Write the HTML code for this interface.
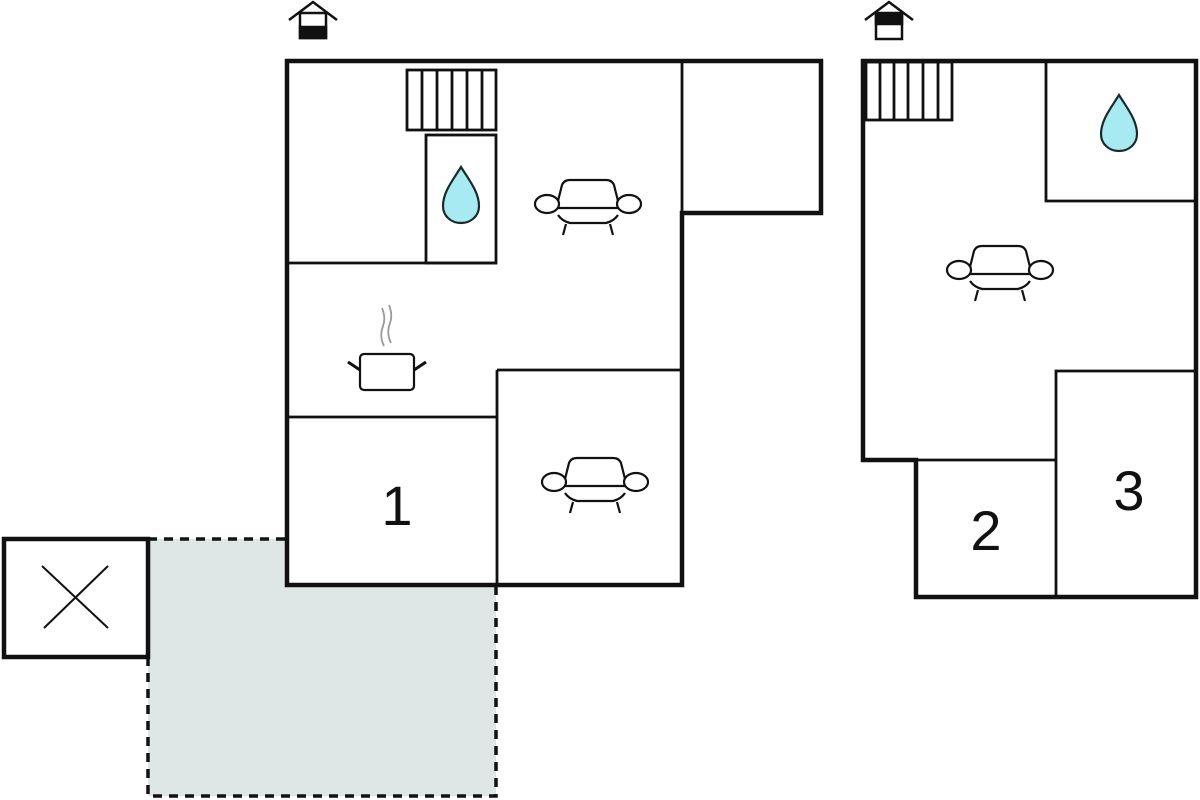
<!DOCTYPE html>
<html><head><style>html,body{margin:0;padding:0;background:#fff}svg{display:block}</style></head><body>
<svg width="1200" height="800" viewBox="0 0 1200 800" xmlns="http://www.w3.org/2000/svg">
<defs>
<g id="sofa" fill="none" stroke="#111" stroke-width="2.2">
<path d="M-30,-6 L-26,-22 Q-24,-27 -18,-27 L18,-27 Q24,-27 26,-22 L30,-6"/>
<path d="M-30,8 Q-26,14 -18,16 L18,16 Q26,14 30,8"/>
<line x1="-32" y1="1" x2="32" y2="1"/>
<ellipse cx="-41" cy="-3" rx="12" ry="9" fill="#fff"/>
<ellipse cx="41" cy="-3" rx="12" ry="9" fill="#fff"/>
<line x1="-22" y1="17" x2="-25" y2="28"/><line x1="22" y1="17" x2="25" y2="28"/>
</g>
<path id="drop" d="M0,-33 C8,-20 18,-8 18,6 C18,16 10,23 0,23 C-10,23 -18,16 -18,6 C-18,-8 -8,-20 0,-33 Z" fill="#a8eaf2" stroke="#1a2a2a" stroke-width="2.2"/>
</defs>
<!-- dashed terrace -->
<rect x="148" y="539" width="348" height="257" fill="#dfe7e6"/>
<path d="M148,539 L287,539 M148,657 L148,796 L496,796 L496,585" fill="none" stroke="#111" stroke-width="3.5" stroke-dasharray="9,7"/>
<!-- X box -->
<rect x="4" y="539" width="144" height="118" fill="#fff" stroke="#111" stroke-width="4.5"/>
<line x1="42" y1="566" x2="108" y2="628" stroke="#111" stroke-width="2"/>
<line x1="108" y1="566" x2="44" y2="628" stroke="#111" stroke-width="2"/>
<!-- left building -->
<path d="M287,61 L821,61 L821,213 L682,213 L682,585 L287,585 Z" fill="#fff" stroke="#111" stroke-width="4.5"/>
<g stroke="#111" stroke-width="2.8" fill="none">
<line x1="682" y1="61" x2="682" y2="213"/>
<line x1="287" y1="263" x2="497" y2="263"/>
<rect x="426" y="135" width="70" height="128"/>
<rect x="407" y="70" width="89" height="60"/>
<line x1="422" y1="70" x2="422" y2="130"/><line x1="437" y1="70" x2="437" y2="130"/><line x1="452" y1="70" x2="452" y2="130"/><line x1="467" y1="70" x2="467" y2="130"/><line x1="482" y1="70" x2="482" y2="130"/>
<line x1="287" y1="417" x2="497" y2="417"/>
<line x1="497" y1="370" x2="497" y2="585"/>
<line x1="497" y1="370" x2="682" y2="370"/>
</g>
<use href="#drop" x="461" y="200"/>
<use href="#sofa" x="588" y="207"/>
<use href="#sofa" x="595" y="485"/>
<!-- pot -->
<g stroke="#111" stroke-width="2.2" fill="none">
<rect x="360" y="354" width="54" height="36" rx="4"/>
<line x1="348" y1="362" x2="360" y2="370" stroke-width="3"/>
<line x1="426" y1="362" x2="414" y2="370" stroke-width="3"/>
<path d="M384,346 Q379,336 383,326 Q386,318 382,308 M391,343 Q386,333 390,323 Q393,315 389,305" stroke="#999" stroke-width="1.8"/>
</g>
<text x="397" y="525" font-family="Liberation Sans, sans-serif" font-size="56" text-anchor="middle" fill="#111">1</text>
<!-- right building -->
<path d="M863,61 L1196,61 L1196,597 L916,597 L916,460 L863,460 Z" fill="#fff" stroke="#111" stroke-width="4.5"/>
<g stroke="#111" stroke-width="2.8" fill="none">
<path d="M1046,61 L1046,201 L1196,201"/>
<rect x="866" y="62" width="86" height="58"/>
<line x1="880" y1="62" x2="880" y2="120"/><line x1="894" y1="62" x2="894" y2="120"/><line x1="908" y1="62" x2="908" y2="120"/><line x1="923" y1="62" x2="923" y2="120"/><line x1="938" y1="62" x2="938" y2="120"/>
<path d="M1196,371 L1056,371 L1056,597"/>
<line x1="916" y1="460" x2="1056" y2="460"/>
</g>
<use href="#drop" x="1119" y="128"/>
<use href="#sofa" x="1000" y="273"/>
<text x="986" y="550" font-family="Liberation Sans, sans-serif" font-size="56" text-anchor="middle" fill="#111">2</text>
<text x="1129" y="510" font-family="Liberation Sans, sans-serif" font-size="56" text-anchor="middle" fill="#111">3</text>
<!-- house icons -->
<g stroke="#111" stroke-width="2.5" fill="none">
<path d="M289,20 L313,2 L337,20"/>
<rect x="300" y="13" width="26" height="25" fill="#fff"/>
<rect x="300" y="27" width="26" height="11" fill="#111"/>
<path d="M865,20 L889,2 L913,20"/>
<rect x="876" y="13" width="26" height="26" fill="#fff"/>
<rect x="876" y="14" width="26" height="10" fill="#111"/>
</g>
</svg>
</body></html>
